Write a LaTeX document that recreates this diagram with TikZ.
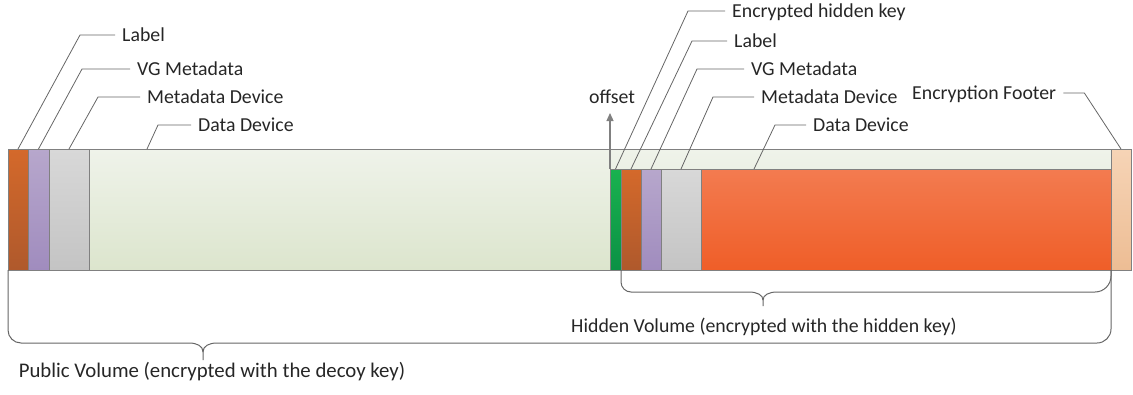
\documentclass[tikz,border=0pt]{standalone}
\usepackage{fontspec}
\setmainfont{Carlito}
\usetikzlibrary{arrows.meta}

\definecolor{edge}{HTML}{808080}
\definecolor{lead}{HTML}{666666}
\definecolor{ink}{HTML}{262626}
\definecolor{lblTop}{HTML}{D4692B}
\definecolor{lblBot}{HTML}{AF592C}
\definecolor{vgTop}{HTML}{B7A7CC}
\definecolor{vgBot}{HTML}{A08CBE}
\definecolor{mdTop}{HTML}{D8D8D8}
\definecolor{mdBot}{HTML}{C4C4C4}
\definecolor{dataTop}{HTML}{EFF3EA}
\definecolor{dataBot}{HTML}{DCE5CD}
\definecolor{keyTop}{HTML}{19B24F}
\definecolor{keyBot}{HTML}{0B9145}
\definecolor{hdTop}{HTML}{F37B50}
\definecolor{hdBot}{HTML}{EF5E28}
\definecolor{ftTop}{HTML}{F6D4B6}
\definecolor{ftBot}{HTML}{EDBD94}

\begin{document}
\begin{tikzpicture}[x=1pt,y=-1pt,
    blk/.style 2 args={draw=edge, line width=1pt, inner sep=0pt, outer sep=0pt,
        anchor=north west, minimum width=#1pt, minimum height=#2pt},
    txt/.style={inner sep=0pt, text height=12pt, text depth=0pt, text=ink,
        font=\fontsize{19.8}{22}\selectfont},
    leader/.style={draw=lead, line width=0.8pt},
    brace/.style={draw=lead, line width=1pt},
    ptr/.style={draw=edge, line width=1.2pt, -{Triangle[length=8pt,width=7pt]}}]
    \useasboundingbox (0,0) rectangle (1133,394);

    % public volume
    \node[blk={1022}{121}, top color=dataTop, bottom color=dataBot] (pData) at (89,149) {};
    \node[blk={20}{121}, top color=lblTop, bottom color=lblBot] (pLabel) at (8,149) {};
    \node[blk={21}{121}, top color=vgTop, bottom color=vgBot] (pVG) at (28,149) {};
    \node[blk={40}{121}, top color=mdTop, bottom color=mdBot] (pMeta) at (49,149) {};
    \node[blk={20}{121}, top color=ftTop, bottom color=ftBot] (footer) at (1111,149) {};

    % hidden volume
    \node[blk={11}{101}, top color=keyTop, bottom color=keyBot] (hKey) at (610,169) {};
    \node[blk={20}{101}, top color=lblTop, bottom color=lblBot] (hLabel) at (621,169) {};
    \node[blk={20}{101}, top color=vgTop, bottom color=vgBot] (hVG) at (641,169) {};
    \node[blk={40}{101}, top color=mdTop, bottom color=mdBot] (hMeta) at (661,169) {};
    \node[blk={410}{101}, top color=hdTop, bottom color=hdBot] (hData) at (701,169) {};

    % callouts
    \node[txt, anchor=west] (tpLabel) at (122,35) {Label};
    \node[txt, anchor=west] (tpVG) at (137,69) {VG Metadata};
    \node[txt, anchor=west] (tpMeta) at (147,97) {Metadata Device};
    \node[txt, anchor=west] (tpData) at (198,125) {Data Device};
    \node[txt, anchor=west] (thKey) at (732,11) {Encrypted hidden key};
    \node[txt, anchor=west] (thLabel) at (734,41) {Label};
    \node[txt, anchor=west] (thVG) at (751,69) {VG Metadata};
    \node[txt, anchor=west] (thMeta) at (761,97) {Metadata Device};
    \node[txt, anchor=west] (thData) at (813,125) {Data Device};
    \node[txt, anchor=west] (tFooter) at (912,93) {Encryption Footer};

    \draw[leader] ([xshift=-7pt]tpLabel.west) -- ++(-35,0) -- (pLabel.north);
    \draw[leader] ([xshift=-7pt]tpVG.west) -- ++(-48,0) -- (pVG.north);
    \draw[leader] ([xshift=-7pt]tpMeta.west) -- ++(-42,0) -- (pMeta.north);
    \draw[leader] ([xshift=-7pt]tpData.west) -- ++(-33,0) -- ([xshift=58pt]pData.north west);
    \draw[leader] ([xshift=-7pt]thKey.west) -- ++(-37,0) -- (hKey.north);
    \draw[leader] ([xshift=-7pt]thLabel.west) -- ++(-35,0) -- (hLabel.north);
    \draw[leader] ([xshift=-7pt]thVG.west) -- ++(-47,0) -- (hVG.north);
    \draw[leader] ([xshift=-7pt]thMeta.west) -- ++(-41,0) -- (hMeta.north);
    \draw[leader] ([xshift=-7pt]thData.west) -- ++(-31,0) -- ([xshift=53pt]hData.north west);
    \draw[leader] ([xshift=7pt]tFooter.east) -- ++(21,0) -- (footer.north);

    % offset marker
    \node[txt, anchor=base] (offsetT) at (612,103) {offset};
    \coordinate (oTip) at (610,113);
    \draw[ptr] (hKey.north west) -- (oTip);

    % braces
    \draw[brace] (hLabel.south west) -- (621,282) .. controls (621,287.5) and (625.5,292) .. (631,292)
        -- (749,292) .. controls (757,292) and (763,295) .. (763,300) -- (763,306);
    \draw[brace] (763,300) .. controls (763,295) and (769,292) .. (777,292)
        -- (1095,292) .. controls (1103.8,292) and (1111,284.8) .. (1111,276) -- (hData.south east);
    \draw[brace] (pLabel.south west) -- (8,330) .. controls (8,337.2) and (13.8,343) .. (21,343)
        -- (189,343) .. controls (197,343) and (203,346) .. (203,352) -- (203,360);
    \draw[brace] (203,352) .. controls (203,346) and (209,343) .. (217,343)
        -- (1097,343) .. controls (1104.7,343) and (1111,336.7) .. (1111,329) -- (footer.south west);

    \node[txt, anchor=base] (hVol) at (764,332) {Hidden Volume (encrypted with the hidden key)};
    \node[txt, anchor=base, font=\fontsize{20.8}{23}\selectfont] (pVol) at (212,377) {Public Volume (encrypted with the decoy key)};
\end{tikzpicture}
\end{document}
